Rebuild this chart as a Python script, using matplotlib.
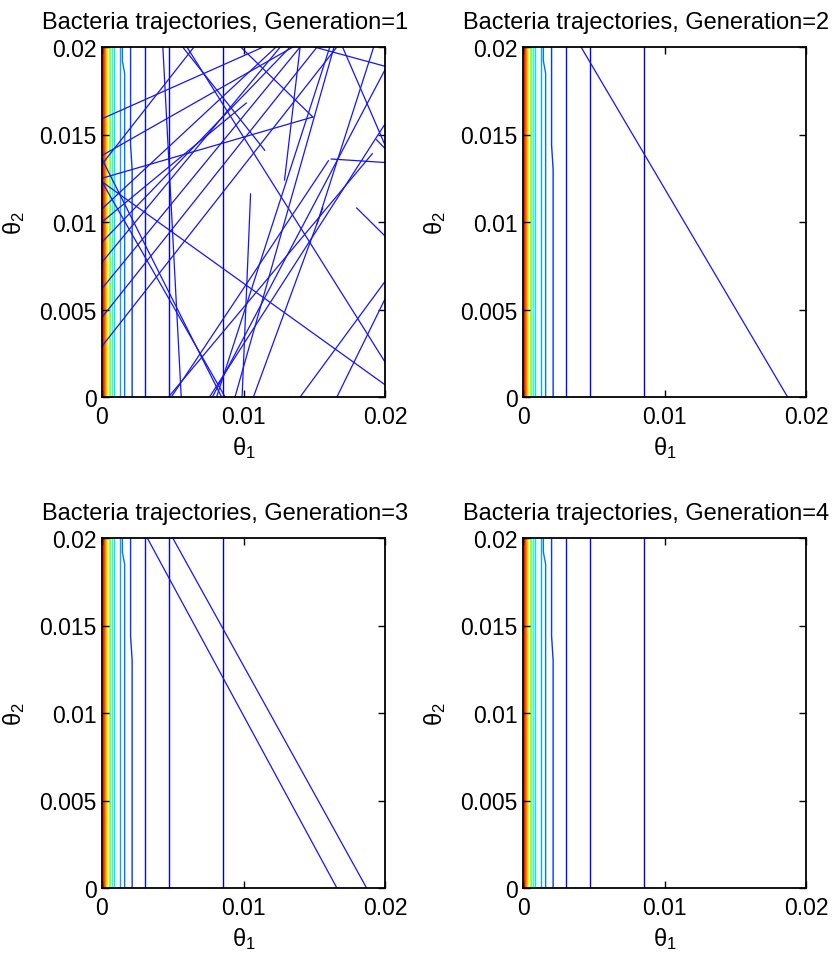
"""Bacteria trajectories over the cost contours, four generations."""

import matplotlib

matplotlib.use("Agg")
import matplotlib.pyplot as plt
import numpy as np

plt.rcParams["font.family"] = ["Liberation Sans", "DejaVu Sans"]
plt.rcParams["mathtext.fontset"] = "custom"
plt.rcParams["mathtext.rm"] = "Liberation Sans"
plt.rcParams["mathtext.it"] = "Liberation Sans:italic"

SCALE = 1e-3  # all positions below are in units of 1e-3

GENERATIONS = [1, 2, 3, 4]

# contour lines (nearly vertical): x at bottom, x at top, and the y range of the kink
CONTOUR_X_BOTTOM = [0.04, 0.10, 0.16, 0.23, 0.30, 0.38, 0.47, 0.57, 0.70, 0.88, 1.25, 1.60, 2.13, 3.03, 4.73, 8.54]
CONTOUR_X_TOP = [0.04, 0.10, 0.16, 0.23, 0.30, 0.38, 0.47, 0.57, 0.70, 0.88, 1.25, 1.44, 2.02, 3.03, 4.73, 8.54]
CONTOUR_KINK_LOW = [0, 0, 0, 0, 0, 0, 0, 0, 0, 0, 0, 18.5, 13.0, 0, 0, 0]
CONTOUR_KINK_HIGH = [0, 0, 0, 0, 0, 0, 0, 0, 0, 0, 0, 19.2, 14.4, 0, 0, 0]
CONTOUR_LEVEL = [0.93, 0.89, 0.84, 0.78, 0.71, 0.64, 0.56, 0.48, 0.41, 0.35, 0.29, 0.24, 0.18, 0.14, 0.11, 0.07]

# trajectory segments (x0, y0, x1, y1) per generation
TRAJ_GEN1 = [
    (0.0, 15.9, 11.4, 20.0),
    (0.0, 13.8, 13.5, 20.0),
    (0.0, 13.3, 6.5, 20.0),
    (0.0, 12.5, 14.9, 16.0),
    (9.8, 20.0, 14.9, 16.0),
    (5.7, 20.0, 11.5, 14.1),
    (4.3, 20.0, 5.6, 0.0),
    (0.0, 12.3, 20.0, 0.7),
    (10.5, 11.6, 9.9, 0.0),
    (10.7, 0.0, 15.6, 10.8),
    (0.0, 13.6, 8.45, 0.0),
    (0.0, 12.3, 8.7, 0.0),
    (0.0, 10.75, 12.3, 20.0),
    (0.0, 10.0, 10.2, 16.8),
    (0.0, 8.85, 13.3, 20.0),
    (0.0, 7.7, 12.6, 20.0),
    (0.0, 6.2, 14.0, 20.0),
    (0.0, 4.55, 15.2, 20.0),
    (0.0, 2.9, 16.6, 20.0),
    (12.9, 12.4, 14.0, 20.0),
    (15.0, 20.0, 20.0, 18.9),
    (17.0, 20.0, 20.0, 14.4),
    (19.2, 20.0, 15.2, 9.9),
    (6.0, 20.0, 20.0, 2.0),
    (14.0, 0.0, 20.0, 6.6),
    (16.6, 0.0, 20.0, 5.6),
    (16.2, 13.6, 20.0, 13.4),
    (18.0, 10.8, 20.0, 9.2),
    (19.4, 14.7, 20.0, 14.2),
    (4.9, 0.0, 16.0, 13.5),
    (4.7, 0.0, 19.1, 13.9),
    (7.6, 0.0, 20.0, 15.6),
    (8.1, 0.0, 16.1, 20.0),
    (9.4, 0.0, 16.4, 20.0),
    (7.8, 0.0, 20.0, 18.7),
]
TRAJ_GEN2 = [(4.1, 20.0, 18.7, 0.0)]
TRAJ_GEN3 = [(3.2, 20.0, 16.6, 0.0), (5.0, 20.0, 18.7, 0.0)]
TRAJ_GEN4 = []

X_TICKS = [0, 0.01, 0.02]
X_TICK_LABELS = ["0", "0.01", "0.02"]
Y_TICKS = [0, 0.005, 0.01, 0.015, 0.02]
Y_TICK_LABELS = ["0", "0.005", "0.01", "0.015", "0.02"]

FIG_W, FIG_H = 839, 954
AX_W, AX_H = 283, 350
AX_LEFT = [102, 523, 102, 523]
AX_TOP = [48, 48, 539, 539]


def draw_contours(ax):
    for xb, xt, klo, khi, lev in zip(CONTOUR_X_BOTTOM, CONTOUR_X_TOP, CONTOUR_KINK_LOW,
                                     CONTOUR_KINK_HIGH, CONTOUR_LEVEL):
        if xb == xt:
            xs, ys = [xb, xt], [0.0, 20.0]
        else:
            xs, ys = [xb, xb, xt, xt], [0.0, klo, khi, 20.0]
        ax.plot(np.array(xs) * SCALE, np.array(ys) * SCALE, color=plt.cm.jet(lev),
                linewidth=1.0, zorder=1)


def draw_trajectories(ax, segments):
    for x0, y0, x1, y1 in segments:
        ax.plot([x0 * SCALE, x1 * SCALE], [y0 * SCALE, y1 * SCALE], color="#1414ff",
                linewidth=0.9, zorder=2)


def style_axes(ax):
    ax.set_xlim(0, 0.02)
    ax.set_ylim(0, 0.02)
    ax.set_xticks(X_TICKS)
    ax.set_xticklabels(X_TICK_LABELS)
    ax.set_yticks(Y_TICKS)
    ax.set_yticklabels(Y_TICK_LABELS)
    ax.tick_params(direction="in", length=5, width=1.0, labelsize=16.5, top=True, right=True,
                   colors="black")
    ax.tick_params(axis="x", pad=6)
    ax.tick_params(axis="y", pad=4)
    for spine in ax.spines.values():
        spine.set_linewidth(1.3)
    ax.set_xlabel(r"θ$_\mathrm{1}$", fontsize=17)
    ax.set_ylabel(r"θ$_\mathrm{2}$", fontsize=17)
    ax.xaxis.set_label_coords(0.5, -0.105)
    ax.yaxis.set_label_coords(-0.265, 0.5)


def main():
    fig = plt.figure(figsize=(FIG_W / 100, FIG_H / 100), dpi=100)
    trajectories = [TRAJ_GEN1, TRAJ_GEN2, TRAJ_GEN3, TRAJ_GEN4]
    for i, gen in enumerate(GENERATIONS):
        rect = (AX_LEFT[i] / FIG_W, 1 - (AX_TOP[i] + AX_H) / FIG_H, AX_W / FIG_W, AX_H / FIG_H)
        ax = fig.add_axes(rect)
        draw_contours(ax)
        draw_trajectories(ax, trajectories[i])
        style_axes(ax)
        ax.set_title(f"Bacteria trajectories, Generation={gen}", fontsize=17, pad=14)
        ax.title.set_x(0.5 - 18 / AX_W)
    fig.savefig("out.png", dpi=100)
    plt.close(fig)


if __name__ == "__main__":
    main()
